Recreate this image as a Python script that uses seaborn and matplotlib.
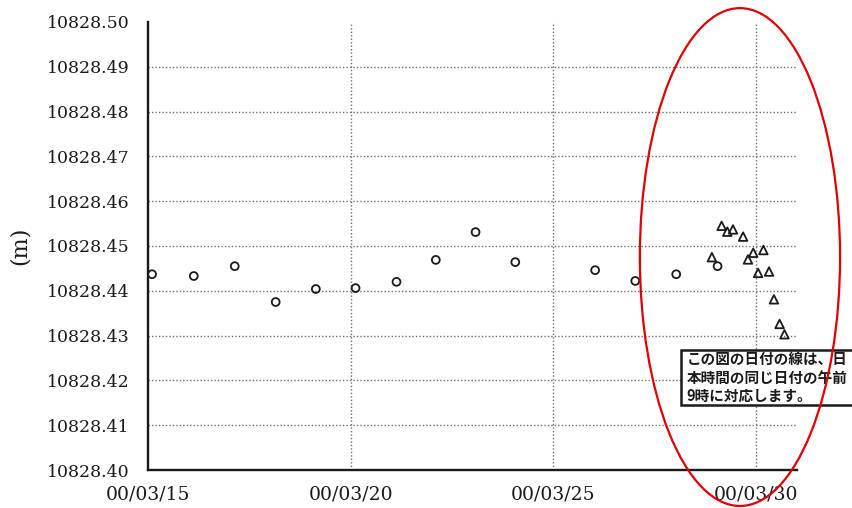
import matplotlib
matplotlib.use("Agg")
import matplotlib.pyplot as plt
import matplotlib.ticker as mtick
from matplotlib.patches import Ellipse, Rectangle
import seaborn as sns
import pandas as pd

# ── Data (day of March 2000, height in m) ───────────────────────────────
circle_day = [15.1, 16.13, 17.14, 18.15, 19.14, 20.12, 21.13, 22.1, 23.08,
              24.06, 26.03, 27.02, 28.03, 29.05]
circle_val = [10828.4437, 10828.4433, 10828.4455, 10828.4375, 10828.4404,
              10828.4406, 10828.4420, 10828.4469, 10828.4531, 10828.4464,
              10828.4446, 10828.4422, 10828.4437, 10828.4455]

tri_day = [28.91, 29.15, 29.29, 29.43, 29.68, 29.80, 29.93, 30.05, 30.18,
           30.32, 30.44, 30.58, 30.70]
tri_val = [10828.4475, 10828.4545, 10828.4532, 10828.4537, 10828.4521,
           10828.4470, 10828.4485, 10828.4440, 10828.4491, 10828.4443,
           10828.4381, 10828.4326, 10828.4303]

major_days = [15, 20, 25, 30]
major_labels = ["00/03/15", "00/03/20", "00/03/25", "00/03/30"]
minor_days = [17.5, 22.5, 27.5]
y_ticks = [10828.40 + 0.01 * i for i in range(11)]

# visible part of the note (the scan cuts it at the right edge)
note_lines = ["この図の日付の線は、日", "本時間の同じ日付の午前", "9時に対応します。"]

circles = pd.DataFrame({"day": circle_day, "h": circle_val})
tris = pd.DataFrame({"day": tri_day, "h": tri_val})

# ── Figure ──────────────────────────────────────────────────────────────
sns.set_style("white")
plt.rcParams["font.family"] = ["DejaVu Serif"]
INK = "#1a1a1a"

fig = plt.figure(figsize=(8.52, 5.08), dpi=100)
ax = fig.add_axes([0.1737, 0.0748, 0.7613, 0.8819])

sns.scatterplot(data=circles, x="day", y="h", marker="o", s=32,
                facecolors="none", edgecolors=INK, linewidth=1.3, ax=ax)
sns.scatterplot(data=tris, x="day", y="h", marker="^", s=38,
                facecolors="none", edgecolors=INK, linewidth=1.3, ax=ax)

ax.set_xlim(15, 31)
ax.set_ylim(10828.40, 10828.50)
ax.set_xticks(major_days)
ax.set_xticklabels(major_labels)
ax.set_xticks(minor_days, minor=True)
ax.set_yticks(y_ticks)
ax.yaxis.set_major_formatter(mtick.FormatStrFormatter("%.2f"))
ax.tick_params(axis="y", which="major", direction="out", length=6,
               width=1.5, labelsize=12.5, colors=INK, pad=7)
ax.tick_params(axis="x", which="major", direction="out", length=6,
               width=1.5, labelsize=13.5, colors=INK, pad=5)
ax.tick_params(axis="x", which="minor", direction="out", length=4,
               width=1.3, colors=INK)
ax.set_xlabel("")
ax.set_ylabel("(m)", fontsize=16, color=INK, labelpad=12)

for s in ["top", "right"]:
    ax.spines[s].set_visible(False)
for s in ["left", "bottom"]:
    ax.spines[s].set_linewidth(1.7)
    ax.spines[s].set_color(INK)

ax.grid(False)
for y in y_ticks[1:-1]:
    ax.axhline(y, color="#6f6f6f", lw=1.0, ls=(0, (1, 1.5)), zorder=0)
for d in major_days[1:]:
    ax.axvline(d, color="#6f6f6f", lw=1.0, ls=(0, (1, 1.5)), zorder=0)

# note box (runs off the right edge)
fig.add_artist(Rectangle((0.799, 0.203), 0.25, 0.108, transform=fig.transFigure,
                         facecolor="white", edgecolor=INK, linewidth=1.8,
                         zorder=3))
fig.text(0.806, 0.257, "\n".join(note_lines), fontsize=10.5,
         family=["Noto Sans CJK JP", "DejaVu Sans"], color=INK,
         fontweight="bold", ha="left", va="center", linespacing=1.2,
         zorder=4)

# red ellipse
fig.add_artist(Ellipse((0.8685, 0.494), 0.235, 0.98, transform=fig.transFigure,
                       fill=False, edgecolor="#e00000", linewidth=1.6,
                       zorder=5))

fig.savefig("out.png", dpi=100)
